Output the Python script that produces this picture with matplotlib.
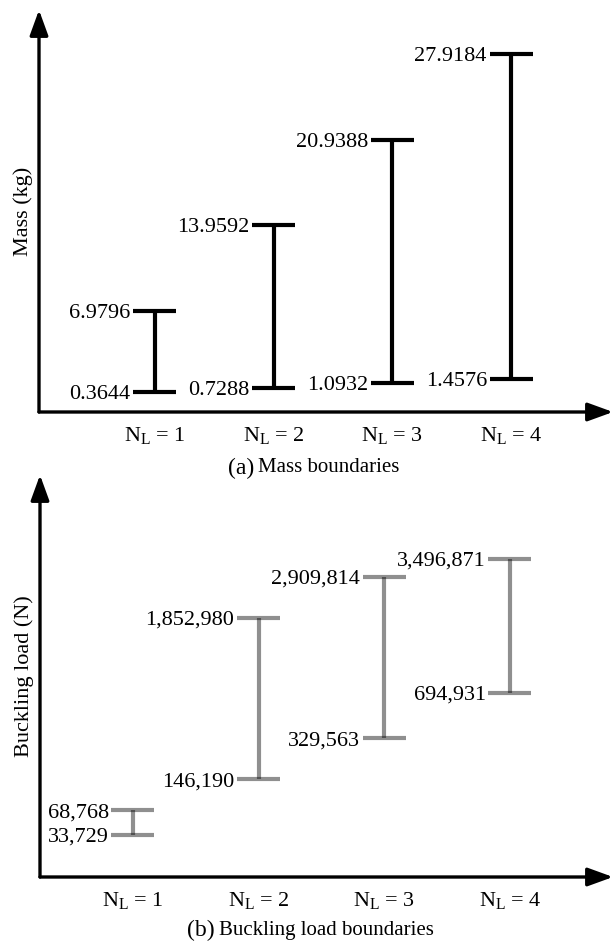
import numpy as np
import matplotlib.pyplot as plt

plt.rcParams["font.family"] = ["Liberation Serif", "DejaVu Serif"]
plt.rcParams["mathtext.fontset"] = "custom"
plt.rcParams["mathtext.rm"] = "Liberation Serif"
plt.rcParams["mathtext.it"] = "Liberation Serif:italic"

# Number of layers and the boundaries for each one
layers = [1, 2, 3, 4]
layer_labels = ["N$_\\mathrm{L}$ = 1", "N$_\\mathrm{L}$ = 2",
                "N$_\\mathrm{L}$ = 3", "N$_\\mathrm{L}$ = 4"]
mass_min = [0.3644, 0.7288, 1.0932, 1.4576]
mass_max = [6.9796, 13.9592, 20.9388, 27.9184]
load_min = [33729, 146190, 329563, 694931]
load_max = [68768, 1852980, 2909814, 3496871]

W, H = 614, 944


def root4(v):
    return np.sign(v) * np.abs(v) ** 0.25


def pow4(v):
    return np.sign(v) * np.abs(v) ** 4


# Draw the two axes as plain arrows, no ticks
def arrow_axes(ax):
    for s in ax.spines.values():
        s.set_visible(False)
    style = "-|>,head_length=1.1,head_width=0.4"
    for end in [(0, 1), (1, 0)]:
        ax.annotate("", xy=end, xytext=(0, 0), xycoords="axes fraction",
                    arrowprops=dict(arrowstyle=style, lw=2.4, color="black",
                                    mutation_scale=14, shrinkA=0, shrinkB=0),
                    annotation_clip=False)
    ax.tick_params(axis="y", left=False, labelleft=False)
    ax.tick_params(axis="x", bottom=False, labelsize=16, pad=6)


# Interval bars with labelled end caps
def draw_bounds(ax, lows, highs, fmt, color, alpha, half):
    ax.vlines(layers, lows, highs, color=color, alpha=alpha, lw=3)
    for x, lo, hi in zip(layers, lows, highs):
        for v in (lo, hi):
            ax.hlines(v, x - half, x + half, color=color, alpha=alpha, lw=3)
            ax.annotate(fmt(v), (x - half, v), xytext=(-2, 0),
                        textcoords="offset points", ha="right",
                        va="center_baseline", fontsize=16)


fig = plt.figure(figsize=(W / 100, H / 100), dpi=100)

# (a) mass
ax1 = fig.add_axes([39 / W, 1 - 412 / H, 574 / W, 402 / H])
arrow_axes(ax1)
draw_bounds(ax1, mass_min, mass_max, lambda v: f"{v:.4f}", "black", 1.0, 0.181)
ax1.set_xlim(0.023, 4.858)
ax1.set_ylim(-1.25, 31.5)
ax1.set_xticks(layers)
ax1.set_xticklabels(layer_labels)
ax1.set_ylabel("Mass (kg)", fontsize=16, labelpad=4)

# (b) buckling load
ax2 = fig.add_axes([40 / W, 1 - 877 / H, 573 / W, 402 / H])
arrow_axes(ax2)
ax2.set_yscale("function", functions=(root4, pow4))
draw_bounds(ax2, load_min, load_max, lambda v: f"{v:,.0f}", "black", 0.44, 0.171)
ax2.set_xlim(0.26, 4.82)
ax2.set_ylim(6650, 7.47e6)
ax2.set_xticks(layers)
ax2.set_xticklabels(layer_labels)
ax2.set_ylabel("Buckling load (N)", fontsize=16, labelpad=4)

# Captions
fig.text(254 / W, 1 - 468 / H, "(a)", fontsize=17, ha="right", va="center")
fig.text(258 / W, 1 - 468 / H, "Mass boundaries", fontsize=15,
         ha="left", va="center")
fig.text(215 / W, 1 - 930 / H, "(b)", fontsize=17, ha="right", va="center")
fig.text(219 / W, 1 - 930 / H, "Buckling load boundaries", fontsize=15,
         ha="left", va="center")

fig.savefig("out.png", dpi=100)
